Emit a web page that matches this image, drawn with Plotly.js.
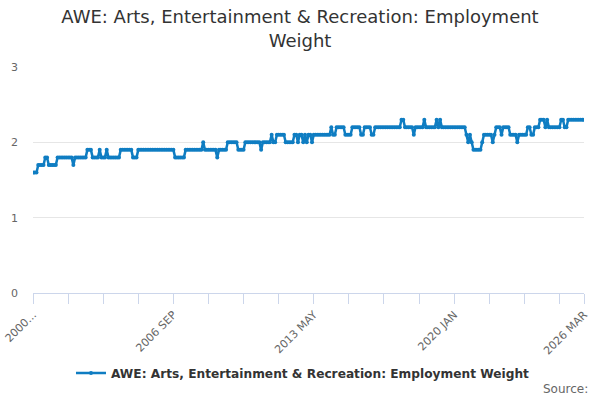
<!DOCTYPE html>
<html>
<head>
<meta charset="utf-8">
<script src="https://cdn.plot.ly/plotly-3.0.1.min.js"></script>
<style>
  html, body { margin: 0; padding: 0; background: #fff; }
  #chart { width: 600px; height: 400px; }
</style>
</head>
<body>
<div id="chart"></div>
<script>
const MONTHS = [ 'JAN', 'FEB', 'MAR', 'APR', 'MAY', 'JUN', 'JUL', 'AUG', 'SEP', 'OCT', 'NOV', 'DEC' ];
const FIRST_YEAR = 2000;

// employment weight, one row per year, Jan..Dec (2026 runs to Mar)
const weights = [
	[ 1.6, 1.6, 1.6, 1.7, 1.7, 1.7, 1.7, 1.8, 1.8, 1.7, 1.7, 1.7 ],
	[ 1.7, 1.7, 1.8, 1.8, 1.8, 1.8, 1.8, 1.8, 1.8, 1.8, 1.8, 1.7 ],
	[ 1.8, 1.8, 1.8, 1.8, 1.8, 1.8, 1.8, 1.9, 1.9, 1.9, 1.8, 1.8 ],
	[ 1.8, 1.8, 1.9, 1.8, 1.8, 1.8, 1.9, 1.8, 1.8, 1.8, 1.8, 1.8 ],
	[ 1.8, 1.8, 1.9, 1.9, 1.9, 1.9, 1.9, 1.9, 1.9, 1.8, 1.8, 1.8 ],
	[ 1.9, 1.9, 1.9, 1.9, 1.9, 1.9, 1.9, 1.9, 1.9, 1.9, 1.9, 1.9 ],
	[ 1.9, 1.9, 1.9, 1.9, 1.9, 1.9, 1.9, 1.9, 1.9, 1.8, 1.8, 1.8 ],
	[ 1.8, 1.8, 1.8, 1.9, 1.9, 1.9, 1.9, 1.9, 1.9, 1.9, 1.9, 1.9 ],
	[ 1.9, 2.0, 1.9, 1.9, 1.9, 1.9, 1.9, 1.9, 1.9, 1.8, 1.9, 1.9 ],
	[ 1.9, 1.9, 1.9, 2.0, 2.0, 2.0, 2.0, 2.0, 2.0, 1.9, 1.9, 1.9 ],
	[ 1.9, 2.0, 2.0, 2.0, 2.0, 2.0, 2.0, 2.0, 2.0, 2.0, 1.9, 2.0 ],
	[ 2.0, 2.0, 2.0, 2.0, 2.1, 2.0, 2.0, 2.1, 2.1, 2.1, 2.1, 2.1 ],
	[ 2.0, 2.0, 2.0, 2.0, 2.0, 2.1, 2.1, 2.0, 2.1, 2.1, 2.0, 2.1 ],
	[ 2.0, 2.1, 2.1, 2.0, 2.1, 2.1, 2.1, 2.1, 2.1, 2.1, 2.1, 2.1 ],
	[ 2.1, 2.1, 2.2, 2.1, 2.1, 2.2, 2.2, 2.2, 2.2, 2.2, 2.1, 2.1 ],
	[ 2.1, 2.1, 2.2, 2.2, 2.2, 2.2, 2.2, 2.1, 2.1, 2.2, 2.2, 2.2 ],
	[ 2.2, 2.1, 2.1, 2.2, 2.2, 2.2, 2.2, 2.2, 2.2, 2.2, 2.2, 2.2 ],
	[ 2.2, 2.2, 2.2, 2.2, 2.2, 2.2, 2.3, 2.3, 2.2, 2.2, 2.2, 2.2 ],
	[ 2.2, 2.1, 2.2, 2.2, 2.2, 2.2, 2.2, 2.3, 2.2, 2.2, 2.2, 2.2 ],
	[ 2.2, 2.2, 2.3, 2.2, 2.3, 2.2, 2.2, 2.2, 2.2, 2.2, 2.2, 2.2 ],
	[ 2.2, 2.2, 2.2, 2.2, 2.2, 2.2, 2.2, 2.1, 2.0, 2.1, 2.0, 1.9 ],
	[ 1.9, 1.9, 1.9, 1.9, 2.0, 2.1, 2.1, 2.1, 2.1, 2.1, 2.0, 2.1 ],
	[ 2.2, 2.2, 2.2, 2.1, 2.2, 2.2, 2.2, 2.2, 2.1, 2.1, 2.1, 2.1 ],
	[ 2.0, 2.1, 2.1, 2.1, 2.1, 2.1, 2.2, 2.2, 2.1, 2.1, 2.2, 2.2 ],
	[ 2.2, 2.3, 2.3, 2.3, 2.2, 2.3, 2.2, 2.2, 2.2, 2.2, 2.2, 2.2 ],
	[ 2.2, 2.3, 2.3, 2.2, 2.2, 2.3, 2.3, 2.3, 2.3, 2.3, 2.3, 2.3 ],
	[ 2.3, 2.3, 2.3 ]
];

// x-axis marks: every 20 months, labels only on some
const tick_labels = {
	'2000 JAN': '2000...',
	'2006 SEP': '2006 SEP',
	'2013 MAY': '2013 MAY',
	'2020 JAN': '2020 JAN',
	'2026 MAR': '2026 MAR'
};

const SERIES_NAME = 'AWE: Arts, Entertainment & Recreation: Employment Weight';
const LINE_COLOR  = '#0f7dc2';

let months = [];
let values = [];
for ( let y = 0; y < weights.length; y++ ) {
	for ( let m = 0; m < weights[ y ].length; m++ ) {
		months.push( ( FIRST_YEAR + y ) + ' ' + MONTHS[ m ] );
		values.push( weights[ y ][ m ] );
	}
}

let tickvals = [];
let ticktext = [];
for ( let i = 0; i < months.length; i += 20 ) {
	tickvals.push( months[ i ] );
	ticktext.push( tick_labels[ months[ i ] ] || '' );
}
tickvals.push( months[ months.length - 1 ] );
ticktext.push( tick_labels[ months[ months.length - 1 ] ] );

const trace = {
	x     : months,
	y     : values,
	type  : 'scatter',
	mode  : 'lines+markers',
	name  : SERIES_NAME,
	line  : { color: LINE_COLOR, width: 2.5 },
	marker: { color: LINE_COLOR, size: 4 }
};

const layout = {
	width        : 600,
	height       : 400,
	margin       : { l: 33, r: 16, t: 67, b: 107 },
	paper_bgcolor: '#ffffff',
	plot_bgcolor : '#ffffff',
	font         : { family: 'DejaVu Sans, sans-serif', color: '#666666', size: 11 },
	title        : {
		text: 'AWE: Arts, Entertainment & Recreation: Employment<br>Weight',
		font: { family: 'DejaVu Sans, sans-serif', size: 18, color: '#333333' },
		x   : 0.5,
		xanchor: 'center',
		y   : 0.942,
		yanchor: 'middle'
	},
	xaxis: {
		type      : 'category',
		range     : [ 0, months.length - 1 ],
		tickmode  : 'array',
		tickvals  : tickvals,
		ticktext  : ticktext,
		tickangle : -45,
		ticks     : 'outside',
		ticklen   : 10,
		tickcolor : '#ccd6eb',
		showline  : true,
		linecolor : '#ccd6eb',
		showgrid  : false,
		zeroline  : false,
		automargin: false,
		tickfont  : { size: 11, color: '#666666' }
	},
	yaxis: {
		range     : [ 0, 3 ],
		tickvals  : [ 0, 1, 2, 3 ],
		gridcolor : '#e6e6e6',
		zeroline  : false,
		ticks     : '',
		automargin: false,
		ticklabelstandoff: 14,
		tickfont  : { size: 11, color: '#666666' }
	},
	showlegend: true,
	legend: {
		orientation: 'h',
		x      : 0.49,
		xanchor: 'center',
		y      : -0.354,
		yanchor: 'middle',
		itemwidth: 30,
		font   : { size: 12.2, color: '#333333', weight: 'bold' }
	},
	annotations: [ {
		text     : 'Source:',
		xref     : 'paper', yref: 'paper',
		x        : 1.01, y: -0.425,
		xanchor  : 'right', yanchor: 'middle',
		showarrow: false,
		font     : { size: 12, color: '#666666' }
	} ]
};

Plotly.newPlot( 'chart', [ trace ], layout, { displayModeBar: false, staticPlot: true } );
</script>
</body>
</html>
